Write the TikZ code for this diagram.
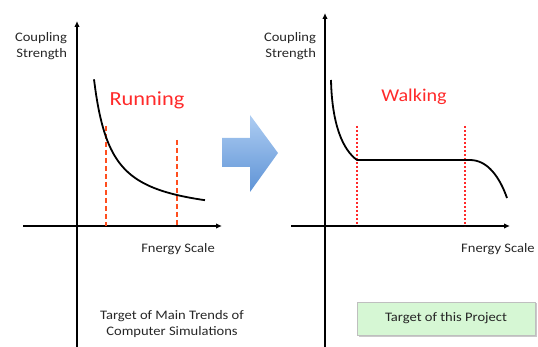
\documentclass[tikz,border=0pt]{standalone}
\usepackage{fontspec}
\setmainfont[FakeStretch=1.12]{Carlito}
\usetikzlibrary{arrows.meta,shadows}
\definecolor{runred}{HTML}{FF2A2A}
\definecolor{dashorange}{HTML}{FF4E1E}
\definecolor{boxgreen}{HTML}{D6F7D4}
\definecolor{arrowtop}{HTML}{AECDF2}
\definecolor{arrowbot}{HTML}{5E93D6}
\definecolor{txt}{HTML}{262626}
\begin{document}
\begin{tikzpicture}[x=1pt,y=-1pt,
  axis/.style={line width=2.2pt,-{Latex[length=6pt,width=5.5pt]}},
  curve/.style={line width=1.8pt},
  lbl/.style={font=\fontsize{13}{15.5}\selectfont,text=txt,align=center,inner sep=0pt},
  bigl/.style={font=\fontsize{20}{24}\selectfont,text=runred,inner sep=0pt},
  markdash/.style={dashorange,line width=2.6pt,dash pattern=on 5.5pt off 2.5pt},
  markdot/.style={runred,line width=2.4pt,dash pattern=on 2pt off 2pt}]
\useasboundingbox (0,0) rectangle (538,347);
% left panel axes
\coordinate (ly0) at (77,349);
\coordinate (ly1) at (77,21);
\coordinate (lx0) at (23,226);
\coordinate (lx1) at (222,226);
\draw[axis] (ly0) -- (ly1);
\draw[axis] (lx0) -- (lx1);
\node[lbl,align=right] (lcs) at (41,46) {Coupling\\ Strength};
\node[lbl] (les) at (178,249) {Fnergy Scale};
\node[lbl] (ltg) at (172,324) {Target of Main Trends of\\ Computer Simulations};
\node[bigl] (run) at (147,100) {Running};
% left marks
\coordinate (la0) at (106,126);
\coordinate (la1) at (106,226);
\coordinate (lb0) at (177,140);
\coordinate (lb1) at (177,226);
\draw[markdash] (la0) -- (la1);
\draw[markdash] (lb0) -- (lb1);
\draw[curve,domain=94:205,samples=60,smooth] plot ({\x},{218.7-2369/(\x-77)});
% big arrow
\shade[top color=arrowtop,bottom color=arrowbot]
  (222,138) -- (250,138) -- (250,115) -- (278,153) -- (250,192) -- (250,167) -- (222,167) -- cycle;
% right panel axes
\coordinate (ry0) at (325,349);
\coordinate (ry1) at (325,13);
\coordinate (rx0) at (291,226);
\coordinate (rx1) at (510,226);
\draw[axis] (ry0) -- (ry1);
\draw[axis] (rx0) -- (rx1);
\node[lbl,align=right] (rcs) at (290,46) {Coupling\\ Strength};
\node[lbl,anchor=west] (res) at (461,249) {Fnergy Scale};
\node[bigl,font=\fontsize{18}{22}\selectfont] (walk) at (414,97) {Walking};
% right marks
\coordinate (ra0) at (357,126);
\coordinate (ra1) at (357,226);
\coordinate (rb0) at (465,126);
\coordinate (rb1) at (465,226);
\draw[markdot] (ra0) -- (ra1);
\draw[markdot] (rb0) -- (rb1);
\draw[curve] (331,80) .. controls (332,125) and (343,150) .. (357,160)
  -- (470,160) .. controls (488,160) and (500,178) .. (507,198);
% target box
\node[draw=black!25,fill=boxgreen,line width=0.6pt,minimum width=178pt,minimum height=33pt,
  drop shadow={shadow xshift=1.5pt,shadow yshift=-1.5pt,fill=black!35,opacity=0.6},
  font=\fontsize{13}{15.5}\selectfont,text=txt] (tbox) at (446,318.5) {Target of this Project};
\end{tikzpicture}
\end{document}
